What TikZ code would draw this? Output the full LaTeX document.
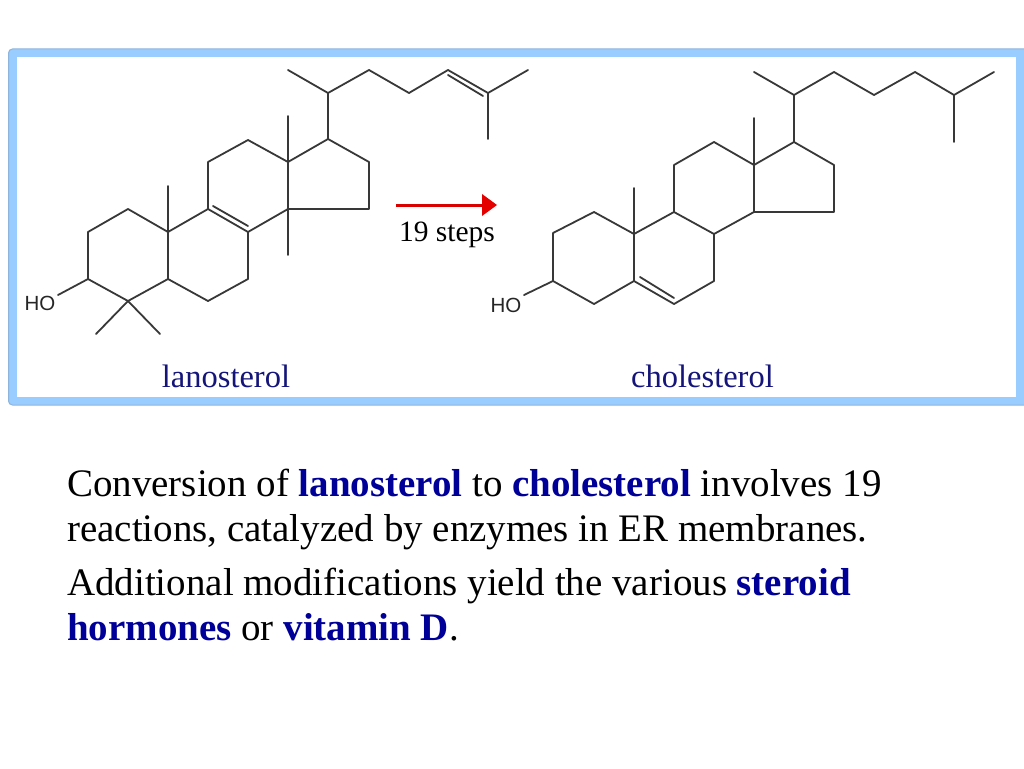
\documentclass[tikz,border=0pt]{standalone}
\usepackage{fontspec}
\setmainfont{Liberation Serif}
\newfontfamily\hofont{Liberation Sans}
\definecolor{framec}{HTML}{99CCFF}
\definecolor{framee}{HTML}{8FB4DC}
\definecolor{bondc}{HTML}{383838}
\definecolor{labelc}{HTML}{14147A}
\definecolor{keyc}{HTML}{000099}
\tikzset{
  bond/.style={draw=bondc,line width=1.8pt,line join=round,line cap=round},
  molname/.style={anchor=base,text=labelc,font=\fontsize{32.5}{36}\selectfont,inner sep=0pt},
  hotext/.style={anchor=center,text=black!85,font=\hofont\fontsize{20.5}{22}\selectfont,inner sep=0pt},
  bodyline/.style={anchor=base west,text=black,font=\fontsize{38.95}{42}\selectfont,inner sep=0pt}
}
\newcommand{\kw}[1]{\textcolor{keyc}{\textbf{#1}}}
\begin{document}
\begin{tikzpicture}[x=1pt,y=-1pt]
\useasboundingbox (0,0) rectangle (1024,768);
\fill[white] (0,0) rectangle (1024,768);
% frame
\draw[draw=framee,line width=1pt,fill=framec,rounded corners=4pt] (8.5,49) rectangle (1040,405);
\fill[white] (17,57) rectangle (1016,397);
% lanosterol
\draw[bond] (88,279) -- (88,232) -- (128,209) -- (168,232) -- (168,279) -- (128,301) -- cycle;
\draw[bond] (168,186) -- (168,232) -- (208,209) -- (248,232) -- (248,279) -- (208,301) -- (168,279);
\draw[bond] (213,206) -- (248,226);
\draw[bond] (208,209) -- (208,162) -- (248,140) -- (288,162) -- (288,209) -- (248,232);
\draw[bond] (288,116) -- (288,162) -- (328,139) -- (369,162) -- (369,209) -- (288,209) -- (288,255);
\draw[bond] (328,139) -- (328,93);
\draw[bond] (288,70) -- (328,93) -- (369,70) -- (409,93) -- (448,70) -- (488,93) -- (528,70);
\draw[bond] (448,75) -- (483,96);
\draw[bond] (488,93) -- (488,139);
\draw[bond] (96,334) -- (128,301) -- (160,334);
\node[hotext] (hol) at (40,303) {HO};
\coordinate (hole) at (58,295);
\draw[bond] (88,279) -- (hole);
% arrow
\draw[draw=red!85!black,line width=3pt] (396,205) -- (484,205);
\fill[red!90!black] (482,194) -- (497,205) -- (482,216) -- cycle;
\node[anchor=base,inner sep=0pt,font=\fontsize{29.5}{32}\selectfont] (steps) at (447,241) {19 steps};
% cholesterol
\draw[bond] (553,281) -- (553,233) -- (594,212) -- (634,234) -- (634,281) -- (594,304) -- cycle;
\draw[bond] (634,188) -- (634,234) -- (674,212) -- (714,234) -- (714,281) -- (674,304) -- (634,281);
\draw[bond] (640,277) -- (674,298);
\draw[bond] (674,212) -- (674,165) -- (714,142) -- (754,165) -- (754,212) -- (714,234);
\draw[bond] (754,118) -- (754,165) -- (794,142) -- (834,165) -- (834,212) -- (754,212);
\draw[bond] (794,142) -- (794,95);
\draw[bond] (754,72) -- (794,95) -- (834,72) -- (874,95) -- (915,72) -- (954,95) -- (994,72);
\draw[bond] (954,95) -- (954,142);
\node[hotext] (hoc) at (506,305) {HO};
\coordinate (hoce) at (524,295);
\draw[bond] (553,281) -- (hoce);
% names
\node[molname] (lano) at (226,387) {lanosterol};
\node[molname] (chol) at (702.5,387) {cholesterol};
% body
\node[bodyline] (l1) at (67,496) {Conversion of \kw{lanosterol} to \kw{cholesterol} involves 19};
\node[bodyline] (l2) at (67,541) {reactions, catalyzed by enzymes in ER membranes.};
\node[bodyline] (l3) at (67,595) {Additional modifications yield the various \kw{steroid}};
\node[bodyline] (l4) at (67,640) {\kw{hormones} or \kw{vitamin D}.};
\end{tikzpicture}
\end{document}
